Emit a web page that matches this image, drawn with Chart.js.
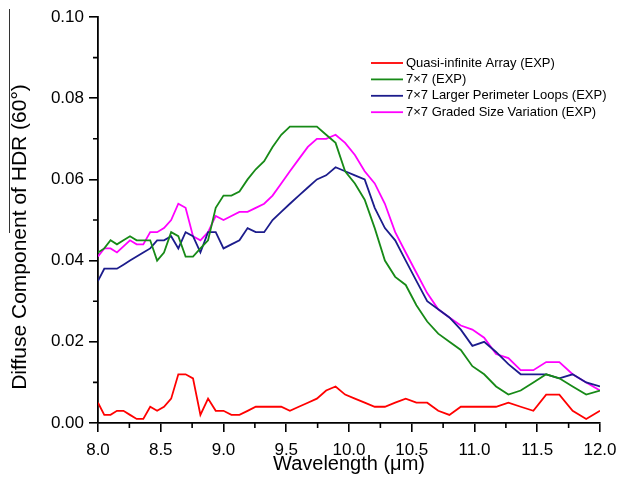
<!DOCTYPE html>
<html>
<head>
<meta charset="utf-8">
<script src="https://cdn.jsdelivr.net/npm/chart.js@4.4.0/dist/chart.umd.min.js"></script>
<style>
  html, body { margin: 0; padding: 0; background: #fff; }
  #wrap { width: 618px; height: 485px; }
</style>
</head>
<body>
<div id="wrap"><canvas id="chart" width="618" height="485"></canvas></div>
<script>
// wavelength grid (um), spectra sampled evenly in wavenumber
var wavelength = [8.000, 8.050, 8.100, 8.151, 8.203, 8.255, 8.308, 8.361, 8.416, 8.471,
    8.526, 8.583, 8.640, 8.698, 8.757, 8.816, 8.877, 8.938, 9.000, 9.063,
    9.127, 9.192, 9.257, 9.324, 9.391, 9.460, 9.529, 9.600, 9.672, 9.744,
    9.818, 9.893, 9.969, 10.047, 10.125, 10.205, 10.286, 10.368, 10.452, 10.537,
    10.623, 10.711, 10.800, 10.891, 10.983, 11.077, 11.172, 11.270, 11.368, 11.469,
    11.571, 11.676, 11.782, 11.890, 12.000];

var quasiInfinite = [0.005, 0.002, 0.002, 0.003, 0.003, 0.002, 0.001, 0.001, 0.004, 0.003,
    0.004, 0.006, 0.012, 0.012, 0.011, 0.002, 0.006, 0.003, 0.003, 0.002,
    0.002, 0.003, 0.004, 0.004, 0.004, 0.004, 0.003, 0.004, 0.005, 0.006,
    0.008, 0.009, 0.007, 0.006, 0.005, 0.004, 0.004, 0.005, 0.006, 0.005,
    0.005, 0.003, 0.002, 0.004, 0.004, 0.004, 0.004, 0.005, 0.004, 0.003,
    0.007, 0.007, 0.003, 0.001, 0.003];

var sevenBySeven = [0.042, 0.043, 0.045, 0.044, 0.045, 0.046, 0.045, 0.045, 0.045, 0.040,
    0.042, 0.047, 0.046, 0.041, 0.041, 0.043, 0.045, 0.053, 0.056, 0.056,
    0.057, 0.060, 0.0625, 0.0645, 0.068, 0.071, 0.073, 0.073, 0.073, 0.073,
    0.071, 0.069, 0.062, 0.059, 0.055, 0.048, 0.040, 0.036, 0.034, 0.029,
    0.025, 0.022, 0.020, 0.018, 0.014, 0.012, 0.009, 0.007, 0.008, 0.010,
    0.012, 0.011, 0.009, 0.007, 0.008];

var largerLoops = [0.035, 0.038, 0.038, 0.038, 0.039, 0.040, 0.041, 0.042, 0.043, 0.045,
    0.045, 0.046, 0.043, 0.047, 0.046, 0.042, 0.047, 0.047, 0.043, 0.044,
    0.045, 0.048, 0.047, 0.047, 0.050, 0.052, 0.054, 0.056, 0.058, 0.060,
    0.061, 0.063, 0.062, 0.061, 0.060, 0.053, 0.048, 0.045, 0.040, 0.035,
    0.030, 0.028, 0.026, 0.023, 0.019, 0.020, 0.0175, 0.0145, 0.012, 0.012,
    0.012, 0.011, 0.012, 0.010, 0.009];

var gradedSize = [0.041, 0.043, 0.043, 0.042, 0.0435, 0.045, 0.044, 0.044, 0.047, 0.047,
    0.048, 0.050, 0.054, 0.053, 0.046, 0.045, 0.047, 0.051, 0.050, 0.051,
    0.052, 0.052, 0.053, 0.054, 0.056, 0.059, 0.062, 0.065, 0.068, 0.070,
    0.070, 0.071, 0.069, 0.066, 0.062, 0.059, 0.054, 0.047, 0.042, 0.037,
    0.032, 0.028, 0.026, 0.024, 0.023, 0.021, 0.017, 0.016, 0.013, 0.013,
    0.015, 0.015, 0.012, 0.010, 0.008];

var seriesLabels = ['Quasi-infinite Array (EXP)', '7\u00d77 (EXP)',
    '7\u00d77 Larger Perimeter Loops (EXP)', '7\u00d77 Graded Size Variation (EXP)'];

var xMinorTicks = [8.25, 8.75, 9.25, 9.75, 10.25, 10.75, 11.25, 11.75];
var yMinorTicks = [0.01, 0.03, 0.05, 0.07, 0.09];

var fontFamily = '"Liberation Sans", Arial, sans-serif';

function points(values) {
    return wavelength.map(function (w, i) { return {x: w, y: values[i]}; });
}

function series(label, values, color) {
    return {
        label: label,
        data: points(values),
        borderColor: color,
        borderWidth: 1.8,
        pointRadius: 0,
        tension: 0,
        fill: false
    };
}

// y title, minor ticks and the in-plot legend
var decorations = {
    id: 'decorations',
    afterDraw: function (chart) {
        var ctx = chart.ctx;
        var area = chart.chartArea;
        var xs = chart.scales.x, ys = chart.scales.y;
        ctx.save();

        ctx.strokeStyle = '#000';
        ctx.lineWidth = 1.6;
        ctx.beginPath();
        xMinorTicks.forEach(function (v) {
            var px = xs.getPixelForValue(v);
            ctx.moveTo(px, area.bottom);
            ctx.lineTo(px, area.bottom + 5);
        });
        yMinorTicks.forEach(function (v) {
            var py = ys.getPixelForValue(v);
            ctx.moveTo(area.left, py);
            ctx.lineTo(area.left - 5, py);
        });
        ctx.stroke();

        // thin bar left of the y title
        ctx.lineWidth = 1;
        ctx.strokeStyle = '#333';
        ctx.beginPath();
        ctx.moveTo(9.5, 9);
        ctx.lineTo(9.5, 233);
        ctx.stroke();

        ctx.fillStyle = '#000';
        ctx.save();
        ctx.translate(20, 237);
        ctx.rotate(-Math.PI / 2);
        ctx.font = '21px ' + fontFamily;
        ctx.textAlign = 'center';
        ctx.textBaseline = 'middle';
        ctx.fillText('Diffuse Component of HDR (60\u00b0)', 0, 0);
        ctx.restore();

        ctx.font = '13px ' + fontFamily;
        ctx.textAlign = 'left';
        ctx.textBaseline = 'middle';
        chart.data.datasets.forEach(function (ds, i) {
            var y = 63 + i * 16.4;
            ctx.strokeStyle = ds.borderColor;
            ctx.lineWidth = 1.8;
            ctx.beginPath();
            ctx.moveTo(371, y);
            ctx.lineTo(403, y);
            ctx.stroke();
            ctx.fillText(ds.label, 406, y);
        });
        ctx.restore();
    }
};

new Chart(document.getElementById('chart'), {
    type: 'line',
    data: {
        datasets: [
            series(seriesLabels[0], quasiInfinite, '#ff0000'),
            series(seriesLabels[1], sevenBySeven, '#178a17'),
            series(seriesLabels[2], largerLoops, '#1c1c8c'),
            series(seriesLabels[3], gradedSize, '#ff00ff')
        ]
    },
    options: {
        responsive: false,
        animation: false,
        devicePixelRatio: 1,
        layout: {padding: {top: 17, right: 18, left: 0, bottom: 0}},
        plugins: {
            legend: {display: false},
            tooltip: {enabled: false}
        },
        scales: {
            x: {
                type: 'linear',
                min: 8,
                max: 12,
                afterFit: function (scale) {
                    scale.height = 62;
                    scale.paddingRight = 0;
                    scale.paddingLeft = 0;
                },
                ticks: {
                    stepSize: 0.5,
                    padding: 8,
                    color: '#000',
                    maxRotation: 0,
                    autoSkip: false,
                    font: {family: fontFamily, size: 17},
                    callback: function (v) { return v.toFixed(1); }
                },
                grid: {drawOnChartArea: false, tickLength: 9, color: '#000', lineWidth: 1.6},
                border: {color: '#000', width: 1.8},
                title: {
                    display: true,
                    text: 'Wavelength (\u03bcm)',
                    color: '#000',
                    font: {family: fontFamily, size: 20},
                    padding: {top: 0, bottom: 9}
                }
            },
            y: {
                min: 0,
                max: 0.1,
                afterFit: function (scale) { scale.width = 98; },
                ticks: {
                    stepSize: 0.02,
                    padding: 5,
                    color: '#000',
                    font: {family: fontFamily, size: 17},
                    callback: function (v) { return v.toFixed(2); }
                },
                grid: {drawOnChartArea: false, tickLength: 9, color: '#000', lineWidth: 1.6},
                border: {color: '#000', width: 1.8}
            }
        }
    },
    plugins: [decorations]
});
</script>
</body>
</html>
